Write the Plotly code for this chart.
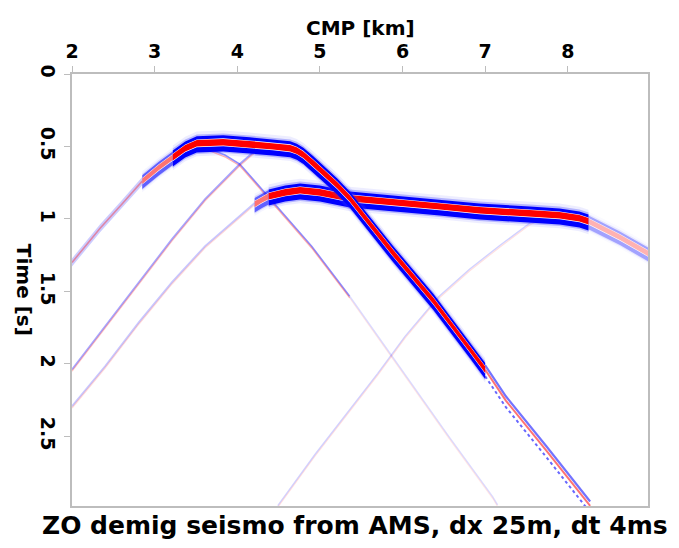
import plotly.graph_objects as go

# ---------------- data (CMP [km], two-way time [s]) ----------------
# Reflector 1 (upper, strong): left diffraction tail, shoulder, flat top + dipping flank, deep flank
r1_tail_cmp = [2.00, 2.34, 2.60, 2.85]
r1_tail_t = [1.300, 1.064, 0.900, 0.739]
r1_shoulder_cmp = [2.85, 3.05, 3.22]
r1_shoulder_t = [0.739, 0.645, 0.574]
r1_main_cmp = [3.22, 3.37, 3.51, 3.83, 4.15, 4.43, 4.64, 4.72, 4.80, 4.92, 5.06, 5.21, 5.36, 5.88, 6.37, 6.82, 7.00]
r1_main_t = [0.574, 0.512, 0.477, 0.470, 0.484, 0.498, 0.511, 0.528, 0.556, 0.615, 0.690, 0.767, 0.857, 1.230, 1.562, 1.900, 2.040]
r1_deep_cmp = [7.00, 7.25, 7.74, 8.27]
r1_deep_t = [2.040, 2.253, 2.598, 2.979]

# Reflector 2 (lower, strong): left tail, shoulder, main event, right tail
r2_tail_cmp = [2.00, 2.40, 2.81, 3.21, 3.61, 4.02, 4.21]
r2_tail_t = [2.300, 2.024, 1.720, 1.444, 1.195, 0.988, 0.898]
r2_shoulder_cmp = [4.21, 4.30, 4.38]
r2_shoulder_t = [0.898, 0.866, 0.843]
r2_main_cmp = [4.38, 4.58, 4.76, 5.00, 5.36, 6.00, 6.45, 6.93, 7.54, 7.90, 8.14, 8.25]
r2_main_t = [0.843, 0.816, 0.802, 0.816, 0.857, 0.891, 0.912, 0.940, 0.961, 0.974, 0.995, 1.016]
r2_right_cmp = [8.25, 8.35, 8.63, 8.97]
r2_right_t = [1.016, 1.044, 1.126, 1.237]

# Bow-tie branches below the flat top of reflector 1
bt_up_cmp = [2.00, 2.40, 2.81, 3.21, 3.61, 3.85, 4.03, 4.21, 4.31]
bt_up_t = [2.046, 1.749, 1.444, 1.147, 0.871, 0.733, 0.629, 0.539, 0.518]
bt_down_cmp = [3.63, 3.85, 4.03, 4.18, 4.52, 4.90, 5.36]
bt_down_t = [0.518, 0.567, 0.629, 0.726, 0.947, 1.196, 1.541]
bt_deep_cmp = [5.36, 5.97, 6.57, 7.09, 7.15]
bt_deep_t = [1.541, 2.032, 2.516, 2.923, 2.980]

# Diffraction from the right end of reflector 2 (going down to the left)
d2_cmp = [7.70, 7.54, 7.18, 6.81, 6.43, 6.03, 5.70, 5.36, 4.94, 4.49]
d2_t = [0.990, 1.037, 1.189, 1.355, 1.548, 1.818, 2.073, 2.322, 2.633, 2.985]

x_ticks = [2, 3, 4, 5, 6, 7, 8]
y_ticks = [0, 0.5, 1, 1.5, 2, 2.5]
y_tick_text = ["0", "0.5", "1", "1.5", "2", "2.5"]

BLUE = (0, 0, 255)
RED = (255, 0, 0)

fig = go.Figure()


def rgba(c, a):
    return f"rgba({c[0]},{c[1]},{c[2]},{a})"


def band(x, t, lo, hi, color):
    xs = list(x) + list(x)[::-1]
    ys = [v + lo for v in t] + [v + hi for v in t][::-1]
    fig.add_trace(go.Scatter(x=xs, y=ys, mode="lines", fill="toself", fillcolor=color,
                             line=dict(width=0, color=color), hoverinfo="skip", showlegend=False))


def line(x, t, shift, color, width, dash=None):
    fig.add_trace(go.Scatter(x=x, y=[v + shift for v in t], mode="lines",
                             line=dict(color=color, width=width, dash=dash),
                             hoverinfo="skip", showlegend=False))


def strong(x, t, a=1.0, s=1.0):
    band(x, t, -0.080 * s, 0.090 * s, rgba((110, 110, 255), 0.12 * a))
    band(x, t, -0.060 * s, 0.074 * s, rgba((40, 40, 255), 0.28 * a))
    band(x, t, -0.047 * s, 0.064 * s, rgba(BLUE, a))
    band(x, t, -0.026 * s, 0.028 * s, "white")
    band(x, t, -0.022 * s, 0.023 * s, rgba(RED, a))


def thin(x, t, a, w=1.6):
    line(x, t, -0.008, rgba(BLUE, a), w)
    line(x, t, 0.004, rgba(RED, a * 0.7), w * 0.8)


# faint events
thin(d2_cmp, d2_t, 0.18, 1.4)
thin(bt_deep_cmp, bt_deep_t, 0.14, 1.4)
thin(bt_down_cmp, bt_down_t, 0.45, 1.6)
thin(bt_up_cmp, bt_up_t, 0.35, 1.8)
thin(r2_tail_cmp, r2_tail_t, 0.22, 1.8)
# reflector 1 left tail as a narrow band
band(r1_tail_cmp, r1_tail_t, -0.028, 0.028, rgba(BLUE, 0.2))
line(r1_tail_cmp, r1_tail_t, 0.0, rgba(RED, 0.35), 1.6)

# reflector 2
strong(r2_right_cmp, r2_right_t, 0.30, 0.85)
strong(r2_shoulder_cmp, r2_shoulder_t, 0.55, 0.9)
strong(r2_main_cmp, r2_main_t, 1.0)

# reflector 1 deep flank: thinner, split lines
line(r1_deep_cmp, r1_deep_t, -0.030, rgba(BLUE, 0.55), 2.2)
line(r1_deep_cmp, r1_deep_t, 0.0, rgba(RED, 0.55), 2.0)
line(r1_deep_cmp, r1_deep_t, 0.045, rgba(BLUE, 0.6), 2.0, "dot")
# reflector 1
strong(r1_shoulder_cmp, r1_shoulder_t, 0.55, 0.85)
strong(r1_main_cmp, r1_main_t, 1.0)

FONT = "DejaVu Sans, Verdana, sans-serif"
GREY = "#bdbdbd"
TF = dict(family=FONT, size=19, color="black", weight="bold")

# the page body adds an 8 px margin, so the figure is sized/offset to keep the
# plot area at x 72..648, y 74..506 of the 679x548 window
fig.update_layout(
    width=663, height=532,
    margin=dict(l=64, r=23, t=66, b=34, autoexpand=False),
    paper_bgcolor="white", plot_bgcolor="white",
    font=TF,
    xaxis=dict(range=[2, 8.97], side="top", tickvals=x_ticks, ticks="outside", ticklen=6,
               tickcolor=GREY, showline=True, linecolor=GREY, linewidth=1.5, mirror=True,
               showgrid=False, zeroline=False, automargin=False, ticklabelstandoff=1,
               tickfont=TF),
    yaxis=dict(range=[2.98, 0], tickvals=y_ticks, ticktext=y_tick_text, tickangle=90,
               ticks="outside", ticklen=6, tickcolor=GREY, showline=True, linecolor=GREY,
               linewidth=1.5, mirror=True, showgrid=False, zeroline=False, automargin=False,
               ticklabelstandoff=0, tickfont=TF),
    annotations=[
        dict(text="CMP [km]", x=0.5, y=1.106, xref="paper", yref="paper", showarrow=False,
             xanchor="center", yanchor="middle",
             font=dict(family=FONT, size=20, color="black", weight="bold")),
        dict(text="Time [s]", x=-0.083, y=0.5, xref="paper", yref="paper", showarrow=False,
             textangle=90, xanchor="center", yanchor="middle",
             font=dict(family=FONT, size=20, color="black", weight="bold")),
        dict(text="ZO demig seismo from AMS, dx 25m, dt 4ms", x=0.491, y=-0.046,
             xref="paper", yref="paper", showarrow=False, xanchor="center", yanchor="middle",
             font=dict(family=FONT, size=25, color="black", weight="bold")),
    ],
)

fig.write_html("out.html")
